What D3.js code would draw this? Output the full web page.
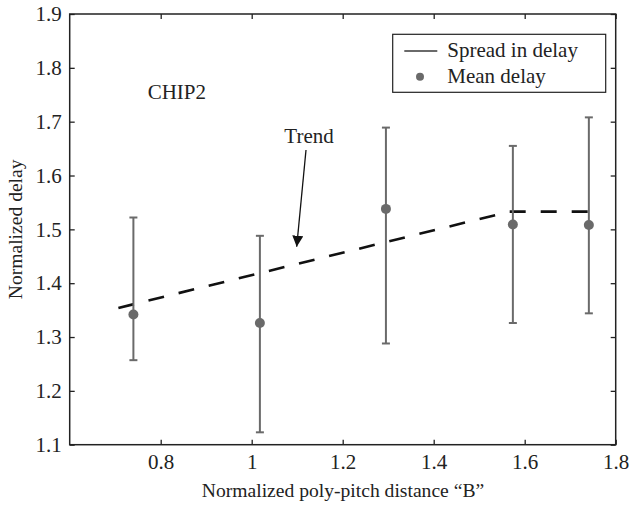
<!DOCTYPE html>
<html><head><meta charset="utf-8">
<script src="https://cdn.jsdelivr.net/npm/d3@7"></script>
<style>
body{margin:0;background:#fff;}
text{font-family:"Liberation Serif","Times New Roman",serif;fill:#222;}
</style></head>
<body><svg id="c" width="629" height="505"></svg>
<script>
const xVals = [0.740, 1.018, 1.295, 1.574, 1.741];
const meanDelay = [1.342, 1.326, 1.538, 1.509, 1.508];
const spreadLow = [1.257, 1.123, 1.288, 1.326, 1.344];
const spreadHigh = [1.522, 1.488, 1.689, 1.655, 1.708];
const trendX = [0.707, 1.567, 1.756];
const trendY = [1.354, 1.533, 1.533];
const xTicks = [0.8, 1.0, 1.2, 1.4, 1.6, 1.8];
const xTickLabels = ["0.8", "1", "1.2", "1.4", "1.6", "1.8"];
const yTicks = [1.1, 1.2, 1.3, 1.4, 1.5, 1.6, 1.7, 1.8, 1.9];
const yTickLabels = ["1.1", "1.2", "1.3", "1.4", "1.5", "1.6", "1.7", "1.8", "1.9"];

const svg = d3.select("#c");
const L = 69.7, R = 615.7, T = 14, B = 444.7;
const x = d3.scaleLinear().domain([0.6, 1.8]).range([L, R]);
const y = d3.scaleLinear().domain([1.1, 1.9]).range([B, T]);
const gray = "#6a6a6a";

// trend line
const trend = trendX.map((v, i) => [v, trendY[i]]);
svg.append("path").datum(trend)
  .attr("d", d3.line().x(d => x(d[0])).y(d => y(d[1])))
  .attr("fill", "none").attr("stroke", "#111").attr("stroke-width", 2.6)
  .attr("stroke-dasharray", "16,15");

// error bars
const data = xVals.map((v, i) => ({x: v, m: meanDelay[i], lo: spreadLow[i], hi: spreadHigh[i]}));
const eb = svg.append("g");
data.forEach(d => {
  eb.append("line").attr("x1", x(d.x)).attr("x2", x(d.x)).attr("y1", y(d.lo)).attr("y2", y(d.hi))
    .attr("stroke", gray).attr("stroke-width", 2);
  [d.lo, d.hi].forEach(v => eb.append("line").attr("x1", x(d.x) - 4).attr("x2", x(d.x) + 4)
    .attr("y1", y(v)).attr("y2", y(v)).attr("stroke", gray).attr("stroke-width", 2));
  eb.append("circle").attr("cx", x(d.x)).attr("cy", y(d.m)).attr("r", 5).attr("fill", gray);
});

// axes
const fmtX = d => xTickLabels[xTicks.indexOf(d)];
const fmtY = d => yTickLabels[yTicks.indexOf(d)];
const ax = (g) => { g.select(".domain").remove(); g.selectAll("line").attr("stroke", "#222").attr("stroke-width", 1.3); };
svg.append("g").attr("transform", `translate(0,${B})`)
  .call(d3.axisBottom(x).tickValues(xTicks).tickFormat(fmtX).tickSizeInner(-5).tickPadding(9))
  .call(ax).selectAll("text").attr("font-size", 21).attr("font-family", "Liberation Serif").attr("fill", "#222");
svg.append("g").attr("transform", `translate(0,${T})`)
  .call(d3.axisTop(x).tickValues(xTicks).tickFormat("").tickSizeInner(-5)).call(ax);
svg.append("g").attr("transform", `translate(${L},0)`)
  .call(d3.axisLeft(y).tickValues(yTicks).tickFormat(fmtY).tickSizeInner(-5).tickPadding(8))
  .call(ax).selectAll("text").attr("font-size", 21).attr("font-family", "Liberation Serif").attr("fill", "#222");
svg.append("g").attr("transform", `translate(${R},0)`)
  .call(d3.axisRight(y).tickValues(yTicks).tickFormat("").tickSizeInner(-5)).call(ax);
svg.append("rect").attr("x", L).attr("y", T).attr("width", R - L).attr("height", B - T)
  .attr("fill", "none").attr("stroke", "#222").attr("stroke-width", 1.5);

// axis labels
svg.append("text").attr("x", 343).attr("y", 497).attr("text-anchor", "middle")
  .attr("font-size", 19.6).text("Normalized poly-pitch distance \u201CB\u201D");
svg.append("text").attr("transform", `translate(22,${(T + B) / 2}) rotate(-90)`).attr("text-anchor", "middle")
  .attr("font-size", 19.6).text("Normalized delay");

// annotations
svg.append("text").attr("x", 147.7).attr("y", 99).attr("font-size", 21).text("CHIP2");
svg.append("text").attr("x", 309).attr("y", 143).attr("text-anchor", "middle").attr("font-size", 21).text("Trend");
svg.append("defs").append("marker").attr("id", "ah").attr("viewBox", "0 0 10 10")
  .attr("refX", 10).attr("refY", 5).attr("markerWidth", 11).attr("markerHeight", 11)
  .attr("markerUnits", "userSpaceOnUse").attr("orient", "auto")
  .append("path").attr("d", "M0,0 L10,5 L0,10 Z").attr("fill", "#111");
svg.append("line").attr("x1", 306).attr("y1", 150).attr("x2", 296.7).attr("y2", 246.7)
  .attr("stroke", "#111").attr("stroke-width", 1.3).attr("marker-end", "url(#ah)");

// legend
const lg = svg.append("g");
lg.append("rect").attr("x", 392.7).attr("y", 34.3).attr("width", 213).attr("height", 58)
  .attr("fill", "#fff").attr("stroke", "#222").attr("stroke-width", 1.2);
lg.append("line").attr("x1", 404.3).attr("x2", 437.3).attr("y1", 51).attr("y2", 51)
  .attr("stroke", gray).attr("stroke-width", 2);
lg.append("text").attr("x", 447.3).attr("y", 57).attr("font-size", 21).text("Spread in delay");
lg.append("circle").attr("cx", 420).attr("cy", 76.7).attr("r", 4).attr("fill", gray);
lg.append("text").attr("x", 447.3).attr("y", 83).attr("font-size", 21).text("Mean delay");
</script></body></html>
